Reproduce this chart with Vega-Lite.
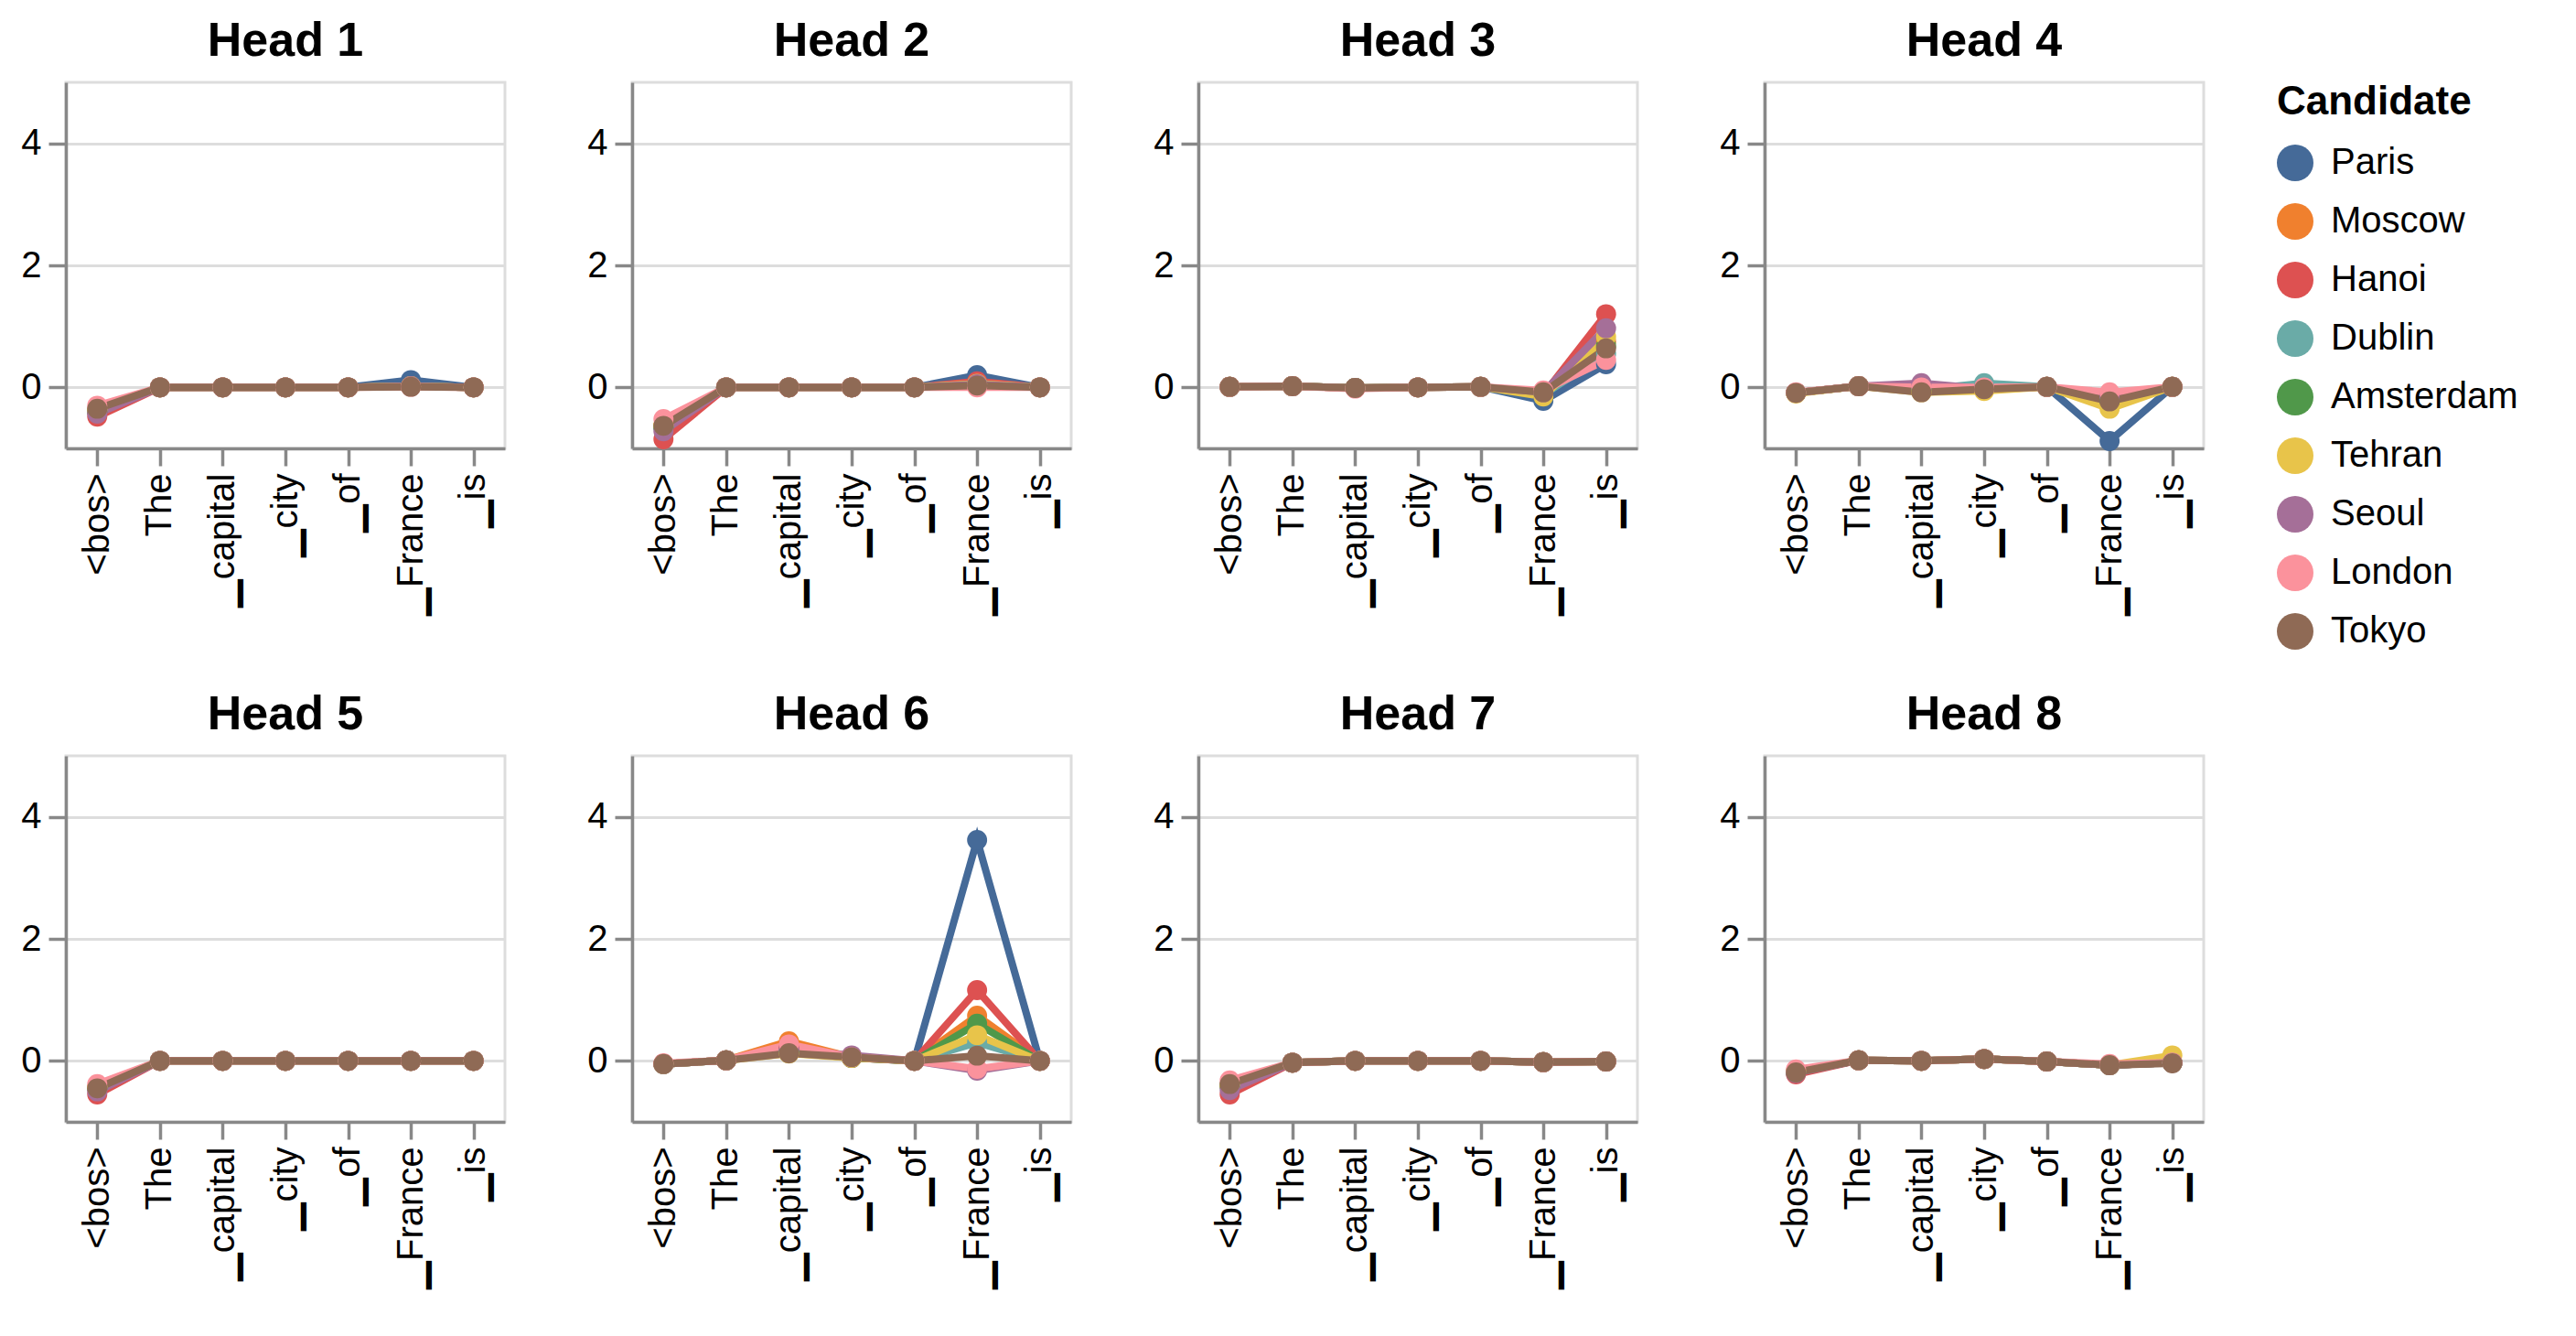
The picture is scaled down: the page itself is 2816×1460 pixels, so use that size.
{
"$schema": "https://vega.github.io/schema/vega-lite/v6.json",
"padding": {"left": 10, "top": 17, "right": 5, "bottom": 5},
"data": {"values": [
{"h":"Head 1","t":"<bos>","c":"Paris","v":-0.40},{"h":"Head 1","t":"<bos>","c":"Moscow","v":-0.38},{"h":"Head 1","t":"<bos>","c":"Hanoi","v":-0.48},{"h":"Head 1","t":"<bos>","c":"Dublin","v":-0.38},{"h":"Head 1","t":"<bos>","c":"Amsterdam","v":-0.40},{"h":"Head 1","t":"<bos>","c":"Tehran","v":-0.37},{"h":"Head 1","t":"<bos>","c":"Seoul","v":-0.43},{"h":"Head 1","t":"<bos>","c":"London","v":-0.30},{"h":"Head 1","t":"<bos>","c":"Tokyo","v":-0.35},
{"h":"Head 1","t":"The","c":"Paris","v":0},{"h":"Head 1","t":"The","c":"Moscow","v":0},{"h":"Head 1","t":"The","c":"Hanoi","v":0},{"h":"Head 1","t":"The","c":"Dublin","v":0},{"h":"Head 1","t":"The","c":"Amsterdam","v":0},{"h":"Head 1","t":"The","c":"Tehran","v":0},{"h":"Head 1","t":"The","c":"Seoul","v":0},{"h":"Head 1","t":"The","c":"London","v":0},{"h":"Head 1","t":"The","c":"Tokyo","v":0},
{"h":"Head 1","t":"▁capital","c":"Paris","v":0},{"h":"Head 1","t":"▁capital","c":"Moscow","v":0},{"h":"Head 1","t":"▁capital","c":"Hanoi","v":0},{"h":"Head 1","t":"▁capital","c":"Dublin","v":0},{"h":"Head 1","t":"▁capital","c":"Amsterdam","v":0},{"h":"Head 1","t":"▁capital","c":"Tehran","v":0},{"h":"Head 1","t":"▁capital","c":"Seoul","v":0},{"h":"Head 1","t":"▁capital","c":"London","v":0},{"h":"Head 1","t":"▁capital","c":"Tokyo","v":0},
{"h":"Head 1","t":"▁city","c":"Paris","v":0},{"h":"Head 1","t":"▁city","c":"Moscow","v":0},{"h":"Head 1","t":"▁city","c":"Hanoi","v":0},{"h":"Head 1","t":"▁city","c":"Dublin","v":0},{"h":"Head 1","t":"▁city","c":"Amsterdam","v":0},{"h":"Head 1","t":"▁city","c":"Tehran","v":0},{"h":"Head 1","t":"▁city","c":"Seoul","v":0},{"h":"Head 1","t":"▁city","c":"London","v":0},{"h":"Head 1","t":"▁city","c":"Tokyo","v":0},
{"h":"Head 1","t":"▁of","c":"Paris","v":0},{"h":"Head 1","t":"▁of","c":"Moscow","v":0},{"h":"Head 1","t":"▁of","c":"Hanoi","v":0},{"h":"Head 1","t":"▁of","c":"Dublin","v":0},{"h":"Head 1","t":"▁of","c":"Amsterdam","v":0},{"h":"Head 1","t":"▁of","c":"Tehran","v":0},{"h":"Head 1","t":"▁of","c":"Seoul","v":0},{"h":"Head 1","t":"▁of","c":"London","v":0},{"h":"Head 1","t":"▁of","c":"Tokyo","v":0},
{"h":"Head 1","t":"▁France","c":"Paris","v":0.12},{"h":"Head 1","t":"▁France","c":"Moscow","v":0.02},{"h":"Head 1","t":"▁France","c":"Hanoi","v":0.02},{"h":"Head 1","t":"▁France","c":"Dublin","v":0.02},{"h":"Head 1","t":"▁France","c":"Amsterdam","v":0.02},{"h":"Head 1","t":"▁France","c":"Tehran","v":0.02},{"h":"Head 1","t":"▁France","c":"Seoul","v":0.02},{"h":"Head 1","t":"▁France","c":"London","v":0.01},{"h":"Head 1","t":"▁France","c":"Tokyo","v":0.01},
{"h":"Head 1","t":"▁is","c":"Paris","v":0},{"h":"Head 1","t":"▁is","c":"Moscow","v":0},{"h":"Head 1","t":"▁is","c":"Hanoi","v":0},{"h":"Head 1","t":"▁is","c":"Dublin","v":0},{"h":"Head 1","t":"▁is","c":"Amsterdam","v":0},{"h":"Head 1","t":"▁is","c":"Tehran","v":0},{"h":"Head 1","t":"▁is","c":"Seoul","v":0},{"h":"Head 1","t":"▁is","c":"London","v":0},{"h":"Head 1","t":"▁is","c":"Tokyo","v":0},

{"h":"Head 2","t":"<bos>","c":"Paris","v":-0.65},{"h":"Head 2","t":"<bos>","c":"Moscow","v":-0.62},{"h":"Head 2","t":"<bos>","c":"Hanoi","v":-0.85},{"h":"Head 2","t":"<bos>","c":"Dublin","v":-0.65},{"h":"Head 2","t":"<bos>","c":"Amsterdam","v":-0.66},{"h":"Head 2","t":"<bos>","c":"Tehran","v":-0.63},{"h":"Head 2","t":"<bos>","c":"Seoul","v":-0.72},{"h":"Head 2","t":"<bos>","c":"London","v":-0.52},{"h":"Head 2","t":"<bos>","c":"Tokyo","v":-0.63},
{"h":"Head 2","t":"The","c":"Paris","v":0},{"h":"Head 2","t":"The","c":"Moscow","v":0},{"h":"Head 2","t":"The","c":"Hanoi","v":0},{"h":"Head 2","t":"The","c":"Dublin","v":0},{"h":"Head 2","t":"The","c":"Amsterdam","v":0},{"h":"Head 2","t":"The","c":"Tehran","v":0},{"h":"Head 2","t":"The","c":"Seoul","v":0},{"h":"Head 2","t":"The","c":"London","v":0},{"h":"Head 2","t":"The","c":"Tokyo","v":0},
{"h":"Head 2","t":"▁capital","c":"Paris","v":0},{"h":"Head 2","t":"▁capital","c":"Moscow","v":0},{"h":"Head 2","t":"▁capital","c":"Hanoi","v":0},{"h":"Head 2","t":"▁capital","c":"Dublin","v":0},{"h":"Head 2","t":"▁capital","c":"Amsterdam","v":0},{"h":"Head 2","t":"▁capital","c":"Tehran","v":0},{"h":"Head 2","t":"▁capital","c":"Seoul","v":0},{"h":"Head 2","t":"▁capital","c":"London","v":0},{"h":"Head 2","t":"▁capital","c":"Tokyo","v":0},
{"h":"Head 2","t":"▁city","c":"Paris","v":0},{"h":"Head 2","t":"▁city","c":"Moscow","v":0},{"h":"Head 2","t":"▁city","c":"Hanoi","v":0},{"h":"Head 2","t":"▁city","c":"Dublin","v":0},{"h":"Head 2","t":"▁city","c":"Amsterdam","v":0},{"h":"Head 2","t":"▁city","c":"Tehran","v":0},{"h":"Head 2","t":"▁city","c":"Seoul","v":0},{"h":"Head 2","t":"▁city","c":"London","v":0},{"h":"Head 2","t":"▁city","c":"Tokyo","v":0},
{"h":"Head 2","t":"▁of","c":"Paris","v":0},{"h":"Head 2","t":"▁of","c":"Moscow","v":0},{"h":"Head 2","t":"▁of","c":"Hanoi","v":0},{"h":"Head 2","t":"▁of","c":"Dublin","v":0},{"h":"Head 2","t":"▁of","c":"Amsterdam","v":0},{"h":"Head 2","t":"▁of","c":"Tehran","v":0},{"h":"Head 2","t":"▁of","c":"Seoul","v":0},{"h":"Head 2","t":"▁of","c":"London","v":0},{"h":"Head 2","t":"▁of","c":"Tokyo","v":0},
{"h":"Head 2","t":"▁France","c":"Paris","v":0.20},{"h":"Head 2","t":"▁France","c":"Moscow","v":0.06},{"h":"Head 2","t":"▁France","c":"Hanoi","v":0.10},{"h":"Head 2","t":"▁France","c":"Dublin","v":0.05},{"h":"Head 2","t":"▁France","c":"Amsterdam","v":0.05},{"h":"Head 2","t":"▁France","c":"Tehran","v":0.06},{"h":"Head 2","t":"▁France","c":"Seoul","v":0.05},{"h":"Head 2","t":"▁France","c":"London","v":0.00},{"h":"Head 2","t":"▁France","c":"Tokyo","v":0.03},
{"h":"Head 2","t":"▁is","c":"Paris","v":0},{"h":"Head 2","t":"▁is","c":"Moscow","v":0},{"h":"Head 2","t":"▁is","c":"Hanoi","v":0},{"h":"Head 2","t":"▁is","c":"Dublin","v":0},{"h":"Head 2","t":"▁is","c":"Amsterdam","v":0},{"h":"Head 2","t":"▁is","c":"Tehran","v":0},{"h":"Head 2","t":"▁is","c":"Seoul","v":0},{"h":"Head 2","t":"▁is","c":"London","v":0},{"h":"Head 2","t":"▁is","c":"Tokyo","v":0},

{"h":"Head 3","t":"<bos>","c":"Paris","v":0.01},{"h":"Head 3","t":"<bos>","c":"Moscow","v":0.01},{"h":"Head 3","t":"<bos>","c":"Hanoi","v":0.01},{"h":"Head 3","t":"<bos>","c":"Dublin","v":0.01},{"h":"Head 3","t":"<bos>","c":"Amsterdam","v":0.01},{"h":"Head 3","t":"<bos>","c":"Tehran","v":0.01},{"h":"Head 3","t":"<bos>","c":"Seoul","v":0.01},{"h":"Head 3","t":"<bos>","c":"London","v":0.01},{"h":"Head 3","t":"<bos>","c":"Tokyo","v":0.01},
{"h":"Head 3","t":"The","c":"Paris","v":0.02},{"h":"Head 3","t":"The","c":"Moscow","v":0.02},{"h":"Head 3","t":"The","c":"Hanoi","v":0.02},{"h":"Head 3","t":"The","c":"Dublin","v":0.02},{"h":"Head 3","t":"The","c":"Amsterdam","v":0.02},{"h":"Head 3","t":"The","c":"Tehran","v":0.02},{"h":"Head 3","t":"The","c":"Seoul","v":0.02},{"h":"Head 3","t":"The","c":"London","v":0.02},{"h":"Head 3","t":"The","c":"Tokyo","v":0.02},
{"h":"Head 3","t":"▁capital","c":"Paris","v":-0.01},{"h":"Head 3","t":"▁capital","c":"Moscow","v":-0.01},{"h":"Head 3","t":"▁capital","c":"Hanoi","v":-0.01},{"h":"Head 3","t":"▁capital","c":"Dublin","v":-0.01},{"h":"Head 3","t":"▁capital","c":"Amsterdam","v":-0.01},{"h":"Head 3","t":"▁capital","c":"Tehran","v":-0.01},{"h":"Head 3","t":"▁capital","c":"Seoul","v":-0.01},{"h":"Head 3","t":"▁capital","c":"London","v":-0.02},{"h":"Head 3","t":"▁capital","c":"Tokyo","v":-0.01},
{"h":"Head 3","t":"▁city","c":"Paris","v":0},{"h":"Head 3","t":"▁city","c":"Moscow","v":0},{"h":"Head 3","t":"▁city","c":"Hanoi","v":0},{"h":"Head 3","t":"▁city","c":"Dublin","v":0},{"h":"Head 3","t":"▁city","c":"Amsterdam","v":0},{"h":"Head 3","t":"▁city","c":"Tehran","v":0},{"h":"Head 3","t":"▁city","c":"Seoul","v":0},{"h":"Head 3","t":"▁city","c":"London","v":0},{"h":"Head 3","t":"▁city","c":"Tokyo","v":0},
{"h":"Head 3","t":"▁of","c":"Paris","v":0.01},{"h":"Head 3","t":"▁of","c":"Moscow","v":0.01},{"h":"Head 3","t":"▁of","c":"Hanoi","v":0.01},{"h":"Head 3","t":"▁of","c":"Dublin","v":0.01},{"h":"Head 3","t":"▁of","c":"Amsterdam","v":0.01},{"h":"Head 3","t":"▁of","c":"Tehran","v":0.01},{"h":"Head 3","t":"▁of","c":"Seoul","v":0.01},{"h":"Head 3","t":"▁of","c":"London","v":0.01},{"h":"Head 3","t":"▁of","c":"Tokyo","v":0.01},
{"h":"Head 3","t":"▁France","c":"Paris","v":-0.22},{"h":"Head 3","t":"▁France","c":"Moscow","v":-0.10},{"h":"Head 3","t":"▁France","c":"Hanoi","v":-0.12},{"h":"Head 3","t":"▁France","c":"Dublin","v":-0.12},{"h":"Head 3","t":"▁France","c":"Amsterdam","v":-0.10},{"h":"Head 3","t":"▁France","c":"Tehran","v":-0.15},{"h":"Head 3","t":"▁France","c":"Seoul","v":-0.08},{"h":"Head 3","t":"▁France","c":"London","v":-0.05},{"h":"Head 3","t":"▁France","c":"Tokyo","v":-0.08},
{"h":"Head 3","t":"▁is","c":"Paris","v":0.38},{"h":"Head 3","t":"▁is","c":"Moscow","v":0.75},{"h":"Head 3","t":"▁is","c":"Hanoi","v":1.20},{"h":"Head 3","t":"▁is","c":"Dublin","v":0.55},{"h":"Head 3","t":"▁is","c":"Amsterdam","v":0.68},{"h":"Head 3","t":"▁is","c":"Tehran","v":0.83},{"h":"Head 3","t":"▁is","c":"Seoul","v":0.97},{"h":"Head 3","t":"▁is","c":"London","v":0.45},{"h":"Head 3","t":"▁is","c":"Tokyo","v":0.64},

{"h":"Head 4","t":"<bos>","c":"Paris","v":-0.09},{"h":"Head 4","t":"<bos>","c":"Moscow","v":-0.09},{"h":"Head 4","t":"<bos>","c":"Hanoi","v":-0.09},{"h":"Head 4","t":"<bos>","c":"Dublin","v":-0.09},{"h":"Head 4","t":"<bos>","c":"Amsterdam","v":-0.09},{"h":"Head 4","t":"<bos>","c":"Tehran","v":-0.10},{"h":"Head 4","t":"<bos>","c":"Seoul","v":-0.09},{"h":"Head 4","t":"<bos>","c":"London","v":-0.08},{"h":"Head 4","t":"<bos>","c":"Tokyo","v":-0.09},
{"h":"Head 4","t":"The","c":"Paris","v":0.02},{"h":"Head 4","t":"The","c":"Moscow","v":0.02},{"h":"Head 4","t":"The","c":"Hanoi","v":0.02},{"h":"Head 4","t":"The","c":"Dublin","v":0.02},{"h":"Head 4","t":"The","c":"Amsterdam","v":0.02},{"h":"Head 4","t":"The","c":"Tehran","v":0.02},{"h":"Head 4","t":"The","c":"Seoul","v":0.02},{"h":"Head 4","t":"The","c":"London","v":0.02},{"h":"Head 4","t":"The","c":"Tokyo","v":0.02},
{"h":"Head 4","t":"▁capital","c":"Paris","v":-0.05},{"h":"Head 4","t":"▁capital","c":"Moscow","v":-0.06},{"h":"Head 4","t":"▁capital","c":"Hanoi","v":-0.05},{"h":"Head 4","t":"▁capital","c":"Dublin","v":-0.04},{"h":"Head 4","t":"▁capital","c":"Amsterdam","v":-0.05},{"h":"Head 4","t":"▁capital","c":"Tehran","v":-0.08},{"h":"Head 4","t":"▁capital","c":"Seoul","v":0.07},{"h":"Head 4","t":"▁capital","c":"London","v":0.00},{"h":"Head 4","t":"▁capital","c":"Tokyo","v":-0.08},
{"h":"Head 4","t":"▁city","c":"Paris","v":-0.02},{"h":"Head 4","t":"▁city","c":"Moscow","v":-0.04},{"h":"Head 4","t":"▁city","c":"Hanoi","v":-0.02},{"h":"Head 4","t":"▁city","c":"Dublin","v":0.07},{"h":"Head 4","t":"▁city","c":"Amsterdam","v":-0.02},{"h":"Head 4","t":"▁city","c":"Tehran","v":-0.06},{"h":"Head 4","t":"▁city","c":"Seoul","v":-0.02},{"h":"Head 4","t":"▁city","c":"London","v":0.00},{"h":"Head 4","t":"▁city","c":"Tokyo","v":-0.03},
{"h":"Head 4","t":"▁of","c":"Paris","v":0.01},{"h":"Head 4","t":"▁of","c":"Moscow","v":0.01},{"h":"Head 4","t":"▁of","c":"Hanoi","v":0.01},{"h":"Head 4","t":"▁of","c":"Dublin","v":0.01},{"h":"Head 4","t":"▁of","c":"Amsterdam","v":0.01},{"h":"Head 4","t":"▁of","c":"Tehran","v":0.01},{"h":"Head 4","t":"▁of","c":"Seoul","v":0.01},{"h":"Head 4","t":"▁of","c":"London","v":0.01},{"h":"Head 4","t":"▁of","c":"Tokyo","v":0.01},
{"h":"Head 4","t":"▁France","c":"Paris","v":-0.88},{"h":"Head 4","t":"▁France","c":"Moscow","v":-0.22},{"h":"Head 4","t":"▁France","c":"Hanoi","v":-0.20},{"h":"Head 4","t":"▁France","c":"Dublin","v":-0.20},{"h":"Head 4","t":"▁France","c":"Amsterdam","v":-0.22},{"h":"Head 4","t":"▁France","c":"Tehran","v":-0.35},{"h":"Head 4","t":"▁France","c":"Seoul","v":-0.15},{"h":"Head 4","t":"▁France","c":"London","v":-0.08},{"h":"Head 4","t":"▁France","c":"Tokyo","v":-0.23},
{"h":"Head 4","t":"▁is","c":"Paris","v":0.01},{"h":"Head 4","t":"▁is","c":"Moscow","v":0.01},{"h":"Head 4","t":"▁is","c":"Hanoi","v":0.01},{"h":"Head 4","t":"▁is","c":"Dublin","v":0.01},{"h":"Head 4","t":"▁is","c":"Amsterdam","v":0.01},{"h":"Head 4","t":"▁is","c":"Tehran","v":0.01},{"h":"Head 4","t":"▁is","c":"Seoul","v":0.01},{"h":"Head 4","t":"▁is","c":"London","v":0.01},{"h":"Head 4","t":"▁is","c":"Tokyo","v":0.01},

{"h":"Head 5","t":"<bos>","c":"Paris","v":-0.45},{"h":"Head 5","t":"<bos>","c":"Moscow","v":-0.44},{"h":"Head 5","t":"<bos>","c":"Hanoi","v":-0.55},{"h":"Head 5","t":"<bos>","c":"Dublin","v":-0.44},{"h":"Head 5","t":"<bos>","c":"Amsterdam","v":-0.45},{"h":"Head 5","t":"<bos>","c":"Tehran","v":-0.43},{"h":"Head 5","t":"<bos>","c":"Seoul","v":-0.50},{"h":"Head 5","t":"<bos>","c":"London","v":-0.38},{"h":"Head 5","t":"<bos>","c":"Tokyo","v":-0.45},
{"h":"Head 5","t":"The","c":"Paris","v":0},{"h":"Head 5","t":"The","c":"Moscow","v":0},{"h":"Head 5","t":"The","c":"Hanoi","v":0},{"h":"Head 5","t":"The","c":"Dublin","v":0},{"h":"Head 5","t":"The","c":"Amsterdam","v":0},{"h":"Head 5","t":"The","c":"Tehran","v":0},{"h":"Head 5","t":"The","c":"Seoul","v":0},{"h":"Head 5","t":"The","c":"London","v":0},{"h":"Head 5","t":"The","c":"Tokyo","v":0},
{"h":"Head 5","t":"▁capital","c":"Paris","v":0},{"h":"Head 5","t":"▁capital","c":"Moscow","v":0},{"h":"Head 5","t":"▁capital","c":"Hanoi","v":0},{"h":"Head 5","t":"▁capital","c":"Dublin","v":0},{"h":"Head 5","t":"▁capital","c":"Amsterdam","v":0},{"h":"Head 5","t":"▁capital","c":"Tehran","v":0},{"h":"Head 5","t":"▁capital","c":"Seoul","v":0},{"h":"Head 5","t":"▁capital","c":"London","v":0},{"h":"Head 5","t":"▁capital","c":"Tokyo","v":0},
{"h":"Head 5","t":"▁city","c":"Paris","v":0},{"h":"Head 5","t":"▁city","c":"Moscow","v":0},{"h":"Head 5","t":"▁city","c":"Hanoi","v":0},{"h":"Head 5","t":"▁city","c":"Dublin","v":0},{"h":"Head 5","t":"▁city","c":"Amsterdam","v":0},{"h":"Head 5","t":"▁city","c":"Tehran","v":0},{"h":"Head 5","t":"▁city","c":"Seoul","v":0},{"h":"Head 5","t":"▁city","c":"London","v":0},{"h":"Head 5","t":"▁city","c":"Tokyo","v":0},
{"h":"Head 5","t":"▁of","c":"Paris","v":0},{"h":"Head 5","t":"▁of","c":"Moscow","v":0},{"h":"Head 5","t":"▁of","c":"Hanoi","v":0},{"h":"Head 5","t":"▁of","c":"Dublin","v":0},{"h":"Head 5","t":"▁of","c":"Amsterdam","v":0},{"h":"Head 5","t":"▁of","c":"Tehran","v":0},{"h":"Head 5","t":"▁of","c":"Seoul","v":0},{"h":"Head 5","t":"▁of","c":"London","v":0},{"h":"Head 5","t":"▁of","c":"Tokyo","v":0},
{"h":"Head 5","t":"▁France","c":"Paris","v":0},{"h":"Head 5","t":"▁France","c":"Moscow","v":0},{"h":"Head 5","t":"▁France","c":"Hanoi","v":0},{"h":"Head 5","t":"▁France","c":"Dublin","v":0},{"h":"Head 5","t":"▁France","c":"Amsterdam","v":0},{"h":"Head 5","t":"▁France","c":"Tehran","v":0},{"h":"Head 5","t":"▁France","c":"Seoul","v":0},{"h":"Head 5","t":"▁France","c":"London","v":0},{"h":"Head 5","t":"▁France","c":"Tokyo","v":0},
{"h":"Head 5","t":"▁is","c":"Paris","v":0},{"h":"Head 5","t":"▁is","c":"Moscow","v":0},{"h":"Head 5","t":"▁is","c":"Hanoi","v":0},{"h":"Head 5","t":"▁is","c":"Dublin","v":0},{"h":"Head 5","t":"▁is","c":"Amsterdam","v":0},{"h":"Head 5","t":"▁is","c":"Tehran","v":0},{"h":"Head 5","t":"▁is","c":"Seoul","v":0},{"h":"Head 5","t":"▁is","c":"London","v":0},{"h":"Head 5","t":"▁is","c":"Tokyo","v":0},

{"h":"Head 6","t":"<bos>","c":"Paris","v":-0.05},{"h":"Head 6","t":"<bos>","c":"Moscow","v":-0.05},{"h":"Head 6","t":"<bos>","c":"Hanoi","v":-0.05},{"h":"Head 6","t":"<bos>","c":"Dublin","v":-0.05},{"h":"Head 6","t":"<bos>","c":"Amsterdam","v":-0.05},{"h":"Head 6","t":"<bos>","c":"Tehran","v":-0.05},{"h":"Head 6","t":"<bos>","c":"Seoul","v":-0.05},{"h":"Head 6","t":"<bos>","c":"London","v":-0.04},{"h":"Head 6","t":"<bos>","c":"Tokyo","v":-0.05},
{"h":"Head 6","t":"The","c":"Paris","v":0.01},{"h":"Head 6","t":"The","c":"Moscow","v":0.01},{"h":"Head 6","t":"The","c":"Hanoi","v":0.01},{"h":"Head 6","t":"The","c":"Dublin","v":0.01},{"h":"Head 6","t":"The","c":"Amsterdam","v":0.01},{"h":"Head 6","t":"The","c":"Tehran","v":0.01},{"h":"Head 6","t":"The","c":"Seoul","v":0.01},{"h":"Head 6","t":"The","c":"London","v":0.01},{"h":"Head 6","t":"The","c":"Tokyo","v":0.01},
{"h":"Head 6","t":"▁capital","c":"Paris","v":0.20},{"h":"Head 6","t":"▁capital","c":"Moscow","v":0.32},{"h":"Head 6","t":"▁capital","c":"Hanoi","v":0.22},{"h":"Head 6","t":"▁capital","c":"Dublin","v":0.15},{"h":"Head 6","t":"▁capital","c":"Amsterdam","v":0.15},{"h":"Head 6","t":"▁capital","c":"Tehran","v":0.12},{"h":"Head 6","t":"▁capital","c":"Seoul","v":0.18},{"h":"Head 6","t":"▁capital","c":"London","v":0.27},{"h":"Head 6","t":"▁capital","c":"Tokyo","v":0.125},
{"h":"Head 6","t":"▁city","c":"Paris","v":0.05},{"h":"Head 6","t":"▁city","c":"Moscow","v":0.06},{"h":"Head 6","t":"▁city","c":"Hanoi","v":0.05},{"h":"Head 6","t":"▁city","c":"Dublin","v":0.06},{"h":"Head 6","t":"▁city","c":"Amsterdam","v":0.05},{"h":"Head 6","t":"▁city","c":"Tehran","v":0.05},{"h":"Head 6","t":"▁city","c":"Seoul","v":0.09},{"h":"Head 6","t":"▁city","c":"London","v":0.06},{"h":"Head 6","t":"▁city","c":"Tokyo","v":0.06},
{"h":"Head 6","t":"▁of","c":"Paris","v":0},{"h":"Head 6","t":"▁of","c":"Moscow","v":0},{"h":"Head 6","t":"▁of","c":"Hanoi","v":0},{"h":"Head 6","t":"▁of","c":"Dublin","v":0},{"h":"Head 6","t":"▁of","c":"Amsterdam","v":0},{"h":"Head 6","t":"▁of","c":"Tehran","v":0},{"h":"Head 6","t":"▁of","c":"Seoul","v":0},{"h":"Head 6","t":"▁of","c":"London","v":0},{"h":"Head 6","t":"▁of","c":"Tokyo","v":0},
{"h":"Head 6","t":"▁France","c":"Paris","v":3.62},{"h":"Head 6","t":"▁France","c":"Moscow","v":0.74},{"h":"Head 6","t":"▁France","c":"Hanoi","v":1.16},{"h":"Head 6","t":"▁France","c":"Dublin","v":0.30},{"h":"Head 6","t":"▁France","c":"Amsterdam","v":0.61},{"h":"Head 6","t":"▁France","c":"Tehran","v":0.42},{"h":"Head 6","t":"▁France","c":"Seoul","v":-0.16},{"h":"Head 6","t":"▁France","c":"London","v":-0.13},{"h":"Head 6","t":"▁France","c":"Tokyo","v":0.085},
{"h":"Head 6","t":"▁is","c":"Paris","v":0},{"h":"Head 6","t":"▁is","c":"Moscow","v":0},{"h":"Head 6","t":"▁is","c":"Hanoi","v":0},{"h":"Head 6","t":"▁is","c":"Dublin","v":0},{"h":"Head 6","t":"▁is","c":"Amsterdam","v":0},{"h":"Head 6","t":"▁is","c":"Tehran","v":0},{"h":"Head 6","t":"▁is","c":"Seoul","v":0},{"h":"Head 6","t":"▁is","c":"London","v":0},{"h":"Head 6","t":"▁is","c":"Tokyo","v":0},

{"h":"Head 7","t":"<bos>","c":"Paris","v":-0.42},{"h":"Head 7","t":"<bos>","c":"Moscow","v":-0.40},{"h":"Head 7","t":"<bos>","c":"Hanoi","v":-0.55},{"h":"Head 7","t":"<bos>","c":"Dublin","v":-0.40},{"h":"Head 7","t":"<bos>","c":"Amsterdam","v":-0.42},{"h":"Head 7","t":"<bos>","c":"Tehran","v":-0.40},{"h":"Head 7","t":"<bos>","c":"Seoul","v":-0.48},{"h":"Head 7","t":"<bos>","c":"London","v":-0.32},{"h":"Head 7","t":"<bos>","c":"Tokyo","v":-0.38},
{"h":"Head 7","t":"The","c":"Paris","v":-0.03},{"h":"Head 7","t":"The","c":"Moscow","v":-0.03},{"h":"Head 7","t":"The","c":"Hanoi","v":-0.03},{"h":"Head 7","t":"The","c":"Dublin","v":-0.03},{"h":"Head 7","t":"The","c":"Amsterdam","v":-0.03},{"h":"Head 7","t":"The","c":"Tehran","v":-0.03},{"h":"Head 7","t":"The","c":"Seoul","v":-0.03},{"h":"Head 7","t":"The","c":"London","v":-0.03},{"h":"Head 7","t":"The","c":"Tokyo","v":-0.03},
{"h":"Head 7","t":"▁capital","c":"Paris","v":0},{"h":"Head 7","t":"▁capital","c":"Moscow","v":0},{"h":"Head 7","t":"▁capital","c":"Hanoi","v":0},{"h":"Head 7","t":"▁capital","c":"Dublin","v":0},{"h":"Head 7","t":"▁capital","c":"Amsterdam","v":0},{"h":"Head 7","t":"▁capital","c":"Tehran","v":0},{"h":"Head 7","t":"▁capital","c":"Seoul","v":0},{"h":"Head 7","t":"▁capital","c":"London","v":0},{"h":"Head 7","t":"▁capital","c":"Tokyo","v":0},
{"h":"Head 7","t":"▁city","c":"Paris","v":0},{"h":"Head 7","t":"▁city","c":"Moscow","v":0},{"h":"Head 7","t":"▁city","c":"Hanoi","v":0},{"h":"Head 7","t":"▁city","c":"Dublin","v":0},{"h":"Head 7","t":"▁city","c":"Amsterdam","v":0},{"h":"Head 7","t":"▁city","c":"Tehran","v":0},{"h":"Head 7","t":"▁city","c":"Seoul","v":0},{"h":"Head 7","t":"▁city","c":"London","v":0},{"h":"Head 7","t":"▁city","c":"Tokyo","v":0},
{"h":"Head 7","t":"▁of","c":"Paris","v":0},{"h":"Head 7","t":"▁of","c":"Moscow","v":0},{"h":"Head 7","t":"▁of","c":"Hanoi","v":0},{"h":"Head 7","t":"▁of","c":"Dublin","v":0},{"h":"Head 7","t":"▁of","c":"Amsterdam","v":0},{"h":"Head 7","t":"▁of","c":"Tehran","v":0},{"h":"Head 7","t":"▁of","c":"Seoul","v":0},{"h":"Head 7","t":"▁of","c":"London","v":0},{"h":"Head 7","t":"▁of","c":"Tokyo","v":0},
{"h":"Head 7","t":"▁France","c":"Paris","v":-0.02},{"h":"Head 7","t":"▁France","c":"Moscow","v":-0.02},{"h":"Head 7","t":"▁France","c":"Hanoi","v":-0.02},{"h":"Head 7","t":"▁France","c":"Dublin","v":-0.02},{"h":"Head 7","t":"▁France","c":"Amsterdam","v":-0.02},{"h":"Head 7","t":"▁France","c":"Tehran","v":-0.02},{"h":"Head 7","t":"▁France","c":"Seoul","v":-0.02},{"h":"Head 7","t":"▁France","c":"London","v":-0.02},{"h":"Head 7","t":"▁France","c":"Tokyo","v":-0.02},
{"h":"Head 7","t":"▁is","c":"Paris","v":-0.01},{"h":"Head 7","t":"▁is","c":"Moscow","v":-0.01},{"h":"Head 7","t":"▁is","c":"Hanoi","v":-0.01},{"h":"Head 7","t":"▁is","c":"Dublin","v":-0.01},{"h":"Head 7","t":"▁is","c":"Amsterdam","v":-0.01},{"h":"Head 7","t":"▁is","c":"Tehran","v":-0.01},{"h":"Head 7","t":"▁is","c":"Seoul","v":-0.01},{"h":"Head 7","t":"▁is","c":"London","v":-0.01},{"h":"Head 7","t":"▁is","c":"Tokyo","v":-0.01},

{"h":"Head 8","t":"<bos>","c":"Paris","v":-0.19},{"h":"Head 8","t":"<bos>","c":"Moscow","v":-0.18},{"h":"Head 8","t":"<bos>","c":"Hanoi","v":-0.22},{"h":"Head 8","t":"<bos>","c":"Dublin","v":-0.18},{"h":"Head 8","t":"<bos>","c":"Amsterdam","v":-0.19},{"h":"Head 8","t":"<bos>","c":"Tehran","v":-0.17},{"h":"Head 8","t":"<bos>","c":"Seoul","v":-0.20},{"h":"Head 8","t":"<bos>","c":"London","v":-0.14},{"h":"Head 8","t":"<bos>","c":"Tokyo","v":-0.19},
{"h":"Head 8","t":"The","c":"Paris","v":0.01},{"h":"Head 8","t":"The","c":"Moscow","v":0.01},{"h":"Head 8","t":"The","c":"Hanoi","v":0.01},{"h":"Head 8","t":"The","c":"Dublin","v":0.01},{"h":"Head 8","t":"The","c":"Amsterdam","v":0.01},{"h":"Head 8","t":"The","c":"Tehran","v":0.01},{"h":"Head 8","t":"The","c":"Seoul","v":0.01},{"h":"Head 8","t":"The","c":"London","v":0.01},{"h":"Head 8","t":"The","c":"Tokyo","v":0.01},
{"h":"Head 8","t":"▁capital","c":"Paris","v":0},{"h":"Head 8","t":"▁capital","c":"Moscow","v":0},{"h":"Head 8","t":"▁capital","c":"Hanoi","v":0},{"h":"Head 8","t":"▁capital","c":"Dublin","v":0},{"h":"Head 8","t":"▁capital","c":"Amsterdam","v":0},{"h":"Head 8","t":"▁capital","c":"Tehran","v":0},{"h":"Head 8","t":"▁capital","c":"Seoul","v":0},{"h":"Head 8","t":"▁capital","c":"London","v":0},{"h":"Head 8","t":"▁capital","c":"Tokyo","v":0},
{"h":"Head 8","t":"▁city","c":"Paris","v":0.03},{"h":"Head 8","t":"▁city","c":"Moscow","v":0.03},{"h":"Head 8","t":"▁city","c":"Hanoi","v":0.03},{"h":"Head 8","t":"▁city","c":"Dublin","v":0.03},{"h":"Head 8","t":"▁city","c":"Amsterdam","v":0.03},{"h":"Head 8","t":"▁city","c":"Tehran","v":0.03},{"h":"Head 8","t":"▁city","c":"Seoul","v":0.03},{"h":"Head 8","t":"▁city","c":"London","v":0.03},{"h":"Head 8","t":"▁city","c":"Tokyo","v":0.03},
{"h":"Head 8","t":"▁of","c":"Paris","v":-0.01},{"h":"Head 8","t":"▁of","c":"Moscow","v":-0.01},{"h":"Head 8","t":"▁of","c":"Hanoi","v":-0.01},{"h":"Head 8","t":"▁of","c":"Dublin","v":-0.01},{"h":"Head 8","t":"▁of","c":"Amsterdam","v":-0.01},{"h":"Head 8","t":"▁of","c":"Tehran","v":-0.01},{"h":"Head 8","t":"▁of","c":"Seoul","v":-0.01},{"h":"Head 8","t":"▁of","c":"London","v":-0.01},{"h":"Head 8","t":"▁of","c":"Tokyo","v":-0.01},
{"h":"Head 8","t":"▁France","c":"Paris","v":-0.07},{"h":"Head 8","t":"▁France","c":"Moscow","v":-0.07},{"h":"Head 8","t":"▁France","c":"Hanoi","v":-0.07},{"h":"Head 8","t":"▁France","c":"Dublin","v":-0.07},{"h":"Head 8","t":"▁France","c":"Amsterdam","v":-0.07},{"h":"Head 8","t":"▁France","c":"Tehran","v":-0.07},{"h":"Head 8","t":"▁France","c":"Seoul","v":-0.07},{"h":"Head 8","t":"▁France","c":"London","v":-0.05},{"h":"Head 8","t":"▁France","c":"Tokyo","v":-0.07},
{"h":"Head 8","t":"▁is","c":"Paris","v":-0.03},{"h":"Head 8","t":"▁is","c":"Moscow","v":-0.03},{"h":"Head 8","t":"▁is","c":"Hanoi","v":-0.03},{"h":"Head 8","t":"▁is","c":"Dublin","v":-0.03},{"h":"Head 8","t":"▁is","c":"Amsterdam","v":-0.03},{"h":"Head 8","t":"▁is","c":"Tehran","v":0.09},{"h":"Head 8","t":"▁is","c":"Seoul","v":-0.03},{"h":"Head 8","t":"▁is","c":"London","v":-0.03},{"h":"Head 8","t":"▁is","c":"Tokyo","v":-0.04}
]},
"facet": {"field": "h", "type": "nominal", "header": {"title": null, "labelFontSize": 52, "labelFontWeight": "bold", "labelFont": "Liberation Sans", "labelColor": "#000", "labelPadding": 18}},
"columns": 4,
"spacing": {"column": 75, "row": 79},
"resolve": {"axis": {"x": "independent", "y": "independent"}},
"spec": {
  "width": 480,
  "height": 400,
  "encoding": {
    "x": {"field": "t", "type": "nominal", "sort": ["<bos>", "The", "▁capital", "▁city", "▁of", "▁France", "▁is"], "axis": {"title": null, "labelAngle": -90}},
    "y": {"field": "v", "type": "quantitative", "scale": {"domain": [-1, 5], "nice": false}, "axis": {"title": null, "values": [0, 2, 4], "minExtent": 60}},
    "color": {"field": "c", "type": "nominal", "sort": ["Paris", "Moscow", "Hanoi", "Dublin", "Amsterdam", "Tehran", "Seoul", "London", "Tokyo"],
      "scale": {"domain": ["Paris", "Moscow", "Hanoi", "Dublin", "Amsterdam", "Tehran", "Seoul", "London", "Tokyo"], "range": ["#456a98", "#f0802e", "#dd5151", "#6aaba7", "#50984a", "#e8c44a", "#a56f98", "#fb929c", "#8f6a55"]},
      "legend": {"title": "Candidate"}}
  },
  "layer": [
    {"mark": {"type": "line", "strokeWidth": 8}},
    {"mark": {"type": "point", "filled": true, "opacity": 1, "size": 480}}
  ]
},
"config": {
  "font": "Liberation Sans",
  "view": {"stroke": "#ddd", "strokeWidth": 3},
  "axis": {"labelFontSize": 40, "labelColor": "#000", "labelFont": "Liberation Sans", "tickSize": 19, "tickWidth": 3.5, "tickColor": "#888", "domainWidth": 3.5, "domainColor": "#888", "gridWidth": 3, "gridColor": "#ddd", "labelPadding": 8},
  "legend": {"titleFontSize": 44, "titleFont": "Liberation Sans", "titleColor": "#000", "titleLimit": 500, "labelLimit": 500, "labelFontSize": 40, "labelFont": "Liberation Sans", "labelColor": "#000", "symbolSize": 1600, "symbolType": "circle", "symbolStrokeWidth": 0, "symbolOpacity": 1, "rowPadding": 24, "labelOffset": 19, "titlePadding": 24, "offset": 78}
}
}
